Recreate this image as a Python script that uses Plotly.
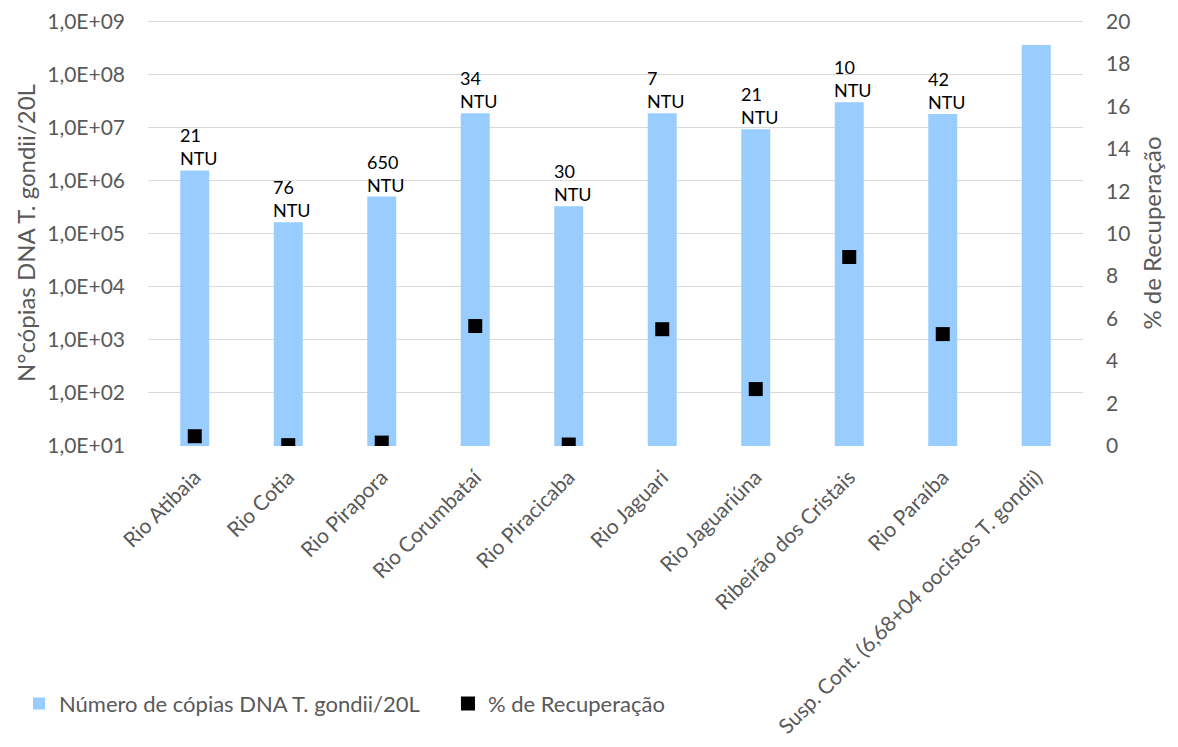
import math
import plotly.graph_objects as go

categories = ["Rio Atibaia", "Rio Cotia", "Rio Pirapora", "Rio Corumbataí", "Rio Piracicaba",
              "Rio Jaguari", "Rio Jaguariúna", "Ribeirão dos Cristais", "Rio Paraíba",
              "Susp. Cont. (6,68+04 oocistos T. gondii)"]
copias = [1.55e6, 1.64e5, 5.0e5, 1.85e7, 3.3e5, 1.85e7, 9.3e6, 3.0e7, 1.8e7, 3.6e8]
recuperacao = [0.46, 0.04, 0.16, 5.65, 0.07, 5.5, 2.68, 8.9, 5.27, None]
ntu = ["21", "76", "650", "34", "30", "7", "21", "10", "42", None]
left_ticks = [1e1, 1e2, 1e3, 1e4, 1e5, 1e6, 1e7, 1e8, 1e9]
left_ticktext = ["1,0E+01", "1,0E+02", "1,0E+03", "1,0E+04", "1,0E+05",
                 "1,0E+06", "1,0E+07", "1,0E+08", "1,0E+09"]

FONT = "Lato"
GRAY = "#595959"

# small headroom so the top gridline is not lost at the plot edge
LOG_MIN, LOG_MAX = 1, 9.025
PCT_MAX = 20 * (LOG_MAX - LOG_MIN) / 8

fig = go.Figure()
fig.add_trace(go.Bar(
    x=categories, y=copias, name="Número de cópias DNA T. gondii/20L",
    marker=dict(color="#99CCFF", line=dict(width=0)), width=0.31,
))
fig.add_trace(go.Scatter(
    x=categories, y=recuperacao, name="% de Recuperação", mode="markers",
    marker=dict(symbol="square", color="black", size=14), yaxis="y2",
))

for c, v, t in zip(categories, copias, ntu):
    if t is None:
        continue
    fig.add_annotation(
        x=c, y=math.log10(v), xref="x", yref="y", text=f"{t}<br>NTU", showarrow=False,
        xanchor="left", yanchor="bottom", align="left", xshift=-17, yshift=-1,
        font=dict(family=FONT, size=18, color="black"),
    )

fig.update_layout(
    width=1178, height=747,
    margin=dict(l=140, r=103, t=12, b=309, autoexpand=False),
    plot_bgcolor="white", paper_bgcolor="white",
    font=dict(family=FONT, size=21, color=GRAY),
    showlegend=True,
    legend=dict(orientation="h", x=-0.138, xanchor="left", y=-0.605, yanchor="middle",
                bgcolor="rgba(0,0,0,0)",
                font=dict(family=FONT, size=22, color=GRAY), itemwidth=30,
                entrywidth=384, traceorder="normal"),
    xaxis=dict(tickangle=-45, showgrid=False, showline=False, ticks="", automargin=False,
               range=[-0.5, len(categories) - 0.5], ticklabelstandoff=14,
               ticklabeloverflow="allow",
               tickfont=dict(family=FONT, size=21, color=GRAY)),
    yaxis=dict(type="log", range=[LOG_MIN, LOG_MAX], tickvals=left_ticks, ticktext=left_ticktext,
               showgrid=True, gridcolor="#D9D9D9", gridwidth=1.3, zeroline=False,
               showline=False, ticks="", automargin=False, ticklabelstandoff=22,
               ticklabeloverflow="allow",
               title=dict(text="N°cópias DNA T. gondii/20L",
                          font=dict(family=FONT, size=24, color=GRAY), standoff=4),
               tickfont=dict(family=FONT, size=21, color=GRAY)),
    yaxis2=dict(overlaying="y", side="right", range=[0, PCT_MAX], tickvals=list(range(0, 21, 2)),
                showgrid=False,
                zeroline=False, showline=False, ticks="", automargin=False,
                ticklabelstandoff=22, ticklabeloverflow="allow",
                title=dict(text="% de Recuperação",
                           font=dict(family=FONT, size=24, color=GRAY), standoff=14),
                tickfont=dict(family=FONT, size=21, color=GRAY)),
)

fig.write_html("out.html")
